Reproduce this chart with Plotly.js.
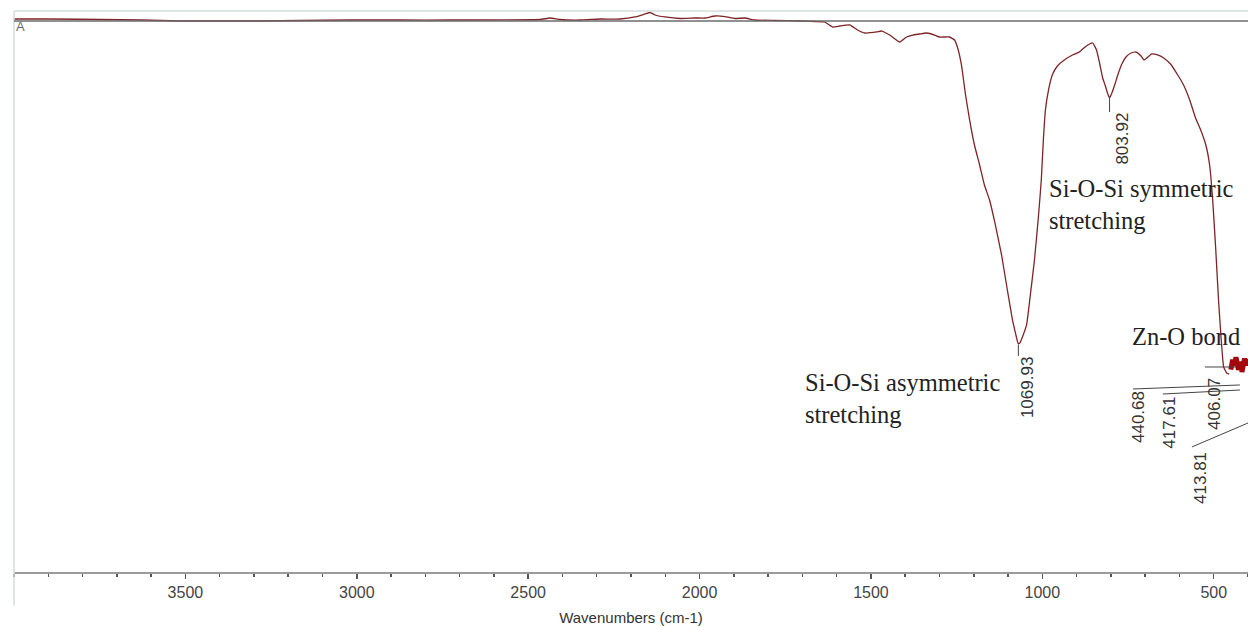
<!DOCTYPE html>
<html>
<head>
<meta charset="utf-8">
<script src="https://cdn.plot.ly/plotly-3.0.1.min.js"></script>
<style>html,body{margin:0;padding:0;background:#fff;}#chart{width:1248px;height:626px;}</style>
</head>
<body>
<div id="chart"></div>
<script>
// Spectrum (wavenumber in cm-1, relative transmittance)
const wavenumbers = [4000,3892,3747,3630,3514,3397,3280,3164,3018,2873,2727,2465,2436,2407,2348,2290,2232,2188,2159,2144,2130,2101,2057,2013,1984,1955,1926,1897,1868,1839,1780,1708,1664,1635,1611,1591,1562,1539,1518,1483,1469,1445,1416,1396,1378,1358,1338,1314,1300,1271,1256,1247,1236,1224,1212,1198,1183,1169,1154,1137,1119,1102,1087,1078,1073,1069.93,1065,1058,1046,1035,1023,1011,1003,997,991,982,971,956,936,912,892,875,862,853,842,833,824,816,810,803.92,796,788,779,768,756,741,727,712,703,695,681,664,646,626,605,588,570,553,538,523,512,503,494,486,477,471,462,455];
const transmittance = [98.58,98.58,98.49,98.40,98.23,98.23,98.23,98.32,98.40,98.40,98.40,98.49,98.76,98.49,98.40,98.58,98.58,98.94,99.47,99.73,99.29,98.94,98.67,98.76,98.76,99.11,99.02,98.67,98.76,98.40,98.32,98.23,98.14,98.05,97.16,97.34,97.52,96.63,96.10,96.28,96.45,95.74,94.50,95.39,95.74,95.92,96.10,95.74,95.39,95.39,94.86,93.44,90.43,85.11,80.67,76.24,72.70,69.15,66.49,62.06,56.74,50.53,45.21,42.8,41.5,40.96,41.2,42.2,44.33,49.65,55.85,63.83,70.04,77.13,82.45,85.99,88.65,90.25,91.31,92.20,92.73,93.62,94.15,94.33,93.09,90.78,88.12,86.70,85.46,84.57,85.64,87.06,88.83,90.60,91.84,92.55,92.73,92.02,91.31,91.67,92.38,92.20,91.67,90.60,88.65,86.88,84.22,81.03,78.90,76.24,72.70,66.49,57.62,48.76,40.78,36.88,35.82,35.6];
// Zn-O region (drawn heavier)
const znWavenumbers = [450,445,440.68,435,428,420,417.61,413.81,410,406.07,400];
const znTransmittance = [36.4,38.2,37.1,38.6,36.4,37.8,36.0,37.5,38.4,37.2,38.3];

// Peak labels
const peakLabels = ["1069.93","803.92"];
const peakPositions = [1069.93,803.92];
const znLabels = ["440.68","417.61","406.07","413.81"];

const tickValues = [3500,3000,2500,2000,1500,1000,500];
const tickLabels = ["3500","3000","2500","2000","1500","1000","500"];

const traces = [
  {x: wavenumbers, y: transmittance, type:'scatter', mode:'lines',
   line:{color:'#7d2426', width:1.3, shape:'spline', smoothing:0.4}, hoverinfo:'skip', showlegend:false},
  {x: znWavenumbers, y: znTransmittance, type:'scatter', mode:'lines',
   line:{color:'#a3080c', width:5}, hoverinfo:'skip', showlegend:false}
];

const numFont = {family:'Liberation Sans, Arial, sans-serif', size:17, color:'#333'};
const serif = {family:'Liberation Serif, Times New Roman, serif', size:24.5, color:'#222'};

const annotations = [
  {x:3982, y:97.3, text:'A', showarrow:false, font:{family:'Liberation Sans, Arial', size:13, color:'#666'}},
  {x:peakPositions[0], y:33.2, text:peakLabels[0], textangle:-90, xshift:9, showarrow:false, font:numFont},
  {x:peakPositions[1], y:77.3, text:peakLabels[1], textangle:-90, xshift:12, showarrow:false, font:numFont},
  {x:721.1, y:28.0, text:znLabels[0], textangle:-90, showarrow:false, font:numFont},
  {x:627.8, y:27.0, text:znLabels[1], textangle:-90, showarrow:false, font:numFont},
  {x:496.5, y:30.32, text:znLabels[2], textangle:-90, showarrow:false, font:numFont},
  {x:537.3, y:17.20, text:znLabels[3], textangle:-90, showarrow:false, font:numFont},
  {x:1697, y:36.9, yanchor:'top', text:'Si-O-Si asymmetric<br>stretching', xanchor:'left', align:'left', showarrow:false, font:serif},
  {x:986, y:71.3, yanchor:'top', text:'Si-O-Si symmetric<br>stretching', xanchor:'left', align:'left', showarrow:false, font:serif},
  {x:744, y:42.2, text:'Zn-O bond', xanchor:'left', showarrow:false, font:serif}
];

const lc = '#444';
const shapes = [
  {type:'line', xref:'paper', yref:'paper', x0:0, x1:1, y0:1, y1:1, line:{color:'#d3dcdc', width:1.5}},
  {type:'line', xref:'paper', yref:'paper', x0:0, x1:0, y0:-0.06, y1:1, line:{color:'#d3dcdc', width:1.5}},
  {type:'line', xref:'paper', yref:'y', x0:0, x1:1, y0:98.23, y1:98.23, line:{color:'#6b6b6b', width:1.5}},
  {type:'line', x0:peakPositions[0], x1:peakPositions[0], y0:40.78, y1:38.83, line:{color:lc, width:1}},
  {type:'line', x0:peakPositions[1], x1:peakPositions[1], y0:84.57, y1:82.09, line:{color:lc, width:1}},
  {type:'line', x0:735.7, x1:423.6, y0:32.98, y1:33.69, line:{color:lc, width:1}},
  {type:'line', x0:648.2, x1:423.6, y0:32.09, y1:32.80, line:{color:lc, width:1}},
  {type:'line', x0:525.7, x1:435.2, y0:36.88, y1:36.88, line:{color:lc, width:1}},
  {type:'line', x0:563.6, x1:400, y0:22.70, y1:26.95, line:{color:lc, width:1}}
];

const layout = {
  width:1248, height:626,
  margin:{l:14, r:0, t:11, b:54},
  paper_bgcolor:'#fff', plot_bgcolor:'#fff',
  showlegend:false,
  xaxis:{
    range:[4000,400], autorange:false,
    tickmode:'array', tickvals:tickValues, ticktext:tickLabels,
    ticks:'outside', ticklen:5, tickwidth:1.5, tickcolor:'#555',
    minor:{dtick:100, tick0:0, ticks:'outside', ticklen:3, tickwidth:1.5, tickcolor:'#555', showgrid:false},
    showline:true, linecolor:'#9a9a9a', linewidth:2,
    showgrid:false, zeroline:false,
    tickfont:{family:'Liberation Sans, Arial', size:16, color:'#444'},
    title:{text:'Wavenumbers (cm-1)', standoff:13,
      font:{family:'Liberation Sans, Arial', size:15, color:'#333'}}
  },
  yaxis:{range:[0.53,100], autorange:false, visible:false, showgrid:false, zeroline:false},
  shapes:shapes,
  annotations:annotations
};

Plotly.newPlot('chart', traces, layout, {displayModeBar:false, staticPlot:true});
</script>
</body>
</html>
